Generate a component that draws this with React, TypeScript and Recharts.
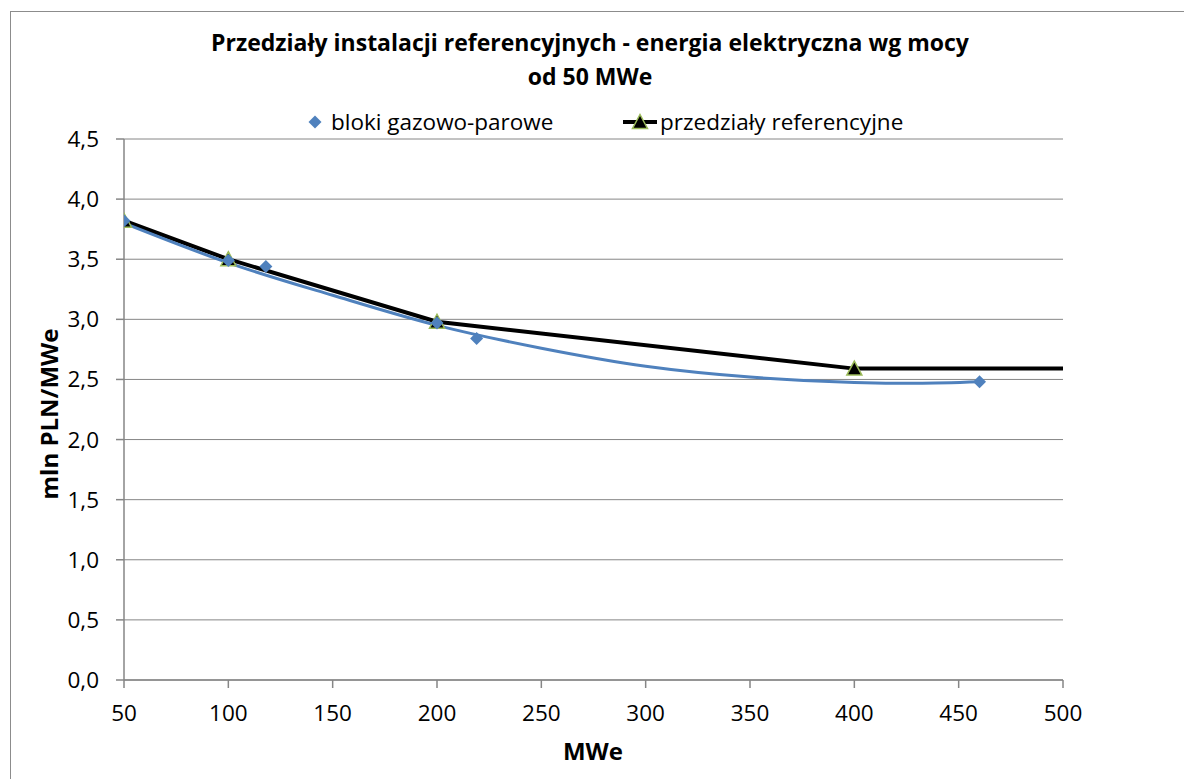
import React from "react";
import {
  ComposedChart,
  Line,
  Scatter,
  XAxis,
  YAxis,
  CartesianGrid,
} from "recharts";

// bloki gazowo-parowe (measured points)
const blokiX = [50, 100, 118, 200, 219, 460];
const blokiY = [3.82, 3.49, 3.44, 2.97, 2.84, 2.48];

const trendX = [50, 100, 150, 200, 250, 300, 350, 400, 430, 460];
const trendY = [3.8, 3.47, 3.2, 2.95, 2.76, 2.61, 2.52, 2.475, 2.468, 2.48];

// przedziały referencyjne
const refX = [50, 100, 200, 400, 500];
const refY = [3.82, 3.5, 2.98, 2.59, 2.59];

const xTicks = [50, 100, 150, 200, 250, 300, 350, 400, 450, 500];
const yTicks = [0, 0.5, 1, 1.5, 2, 2.5, 3, 3.5, 4, 4.5];

const blokiData = blokiX.map((x, i) => ({ x, y: blokiY[i] }));
const trendData = trendX.map((x, i) => ({ x, y: trendY[i] }));
const refData = refX.map((x, i) => ({ x, y: refY[i] }));

const FONT = "'Open Sans', 'DejaVu Sans', sans-serif";
const BLUE = "#4F81BD";
const GRID = "#868686";

function Diamond(props: any) {
  const { cx, cy } = props;
  if (cx == null || cy == null) return null;
  const r = 6.5;
  return (
    <polygon
      points={`${cx},${cy - r} ${cx + r},${cy} ${cx},${cy + r} ${cx - r},${cy}`}
      fill={BLUE}
    />
  );
}

function Triangle({ cx, cy, w = 15, h = 13 }: any) {
  return (
    <polygon
      points={`${cx},${cy - h / 2 - 1} ${cx + w / 2},${cy + h / 2} ${cx - w / 2},${cy + h / 2}`}
      fill="#000"
      stroke="#9BBB59"
      strokeWidth={1.5}
    />
  );
}

// no marker on the line's end point at 500
function RefDot(props: any) {
  const { cx, cy, index } = props;
  if (index === refX.length - 1 || cx == null) return <g key={index} />;
  return <Triangle key={index} cx={cx} cy={cy} />;
}

export default function App() {
  return (
    <div
      style={{
        position: "absolute",
        left: 0,
        top: 0,
        width: 1184,
        height: 779,
        overflow: "hidden",
        background: "#fff",
        fontFamily: FONT,
      }}
    >
      {/* chart frame (only left and top visible) */}
      <div
        style={{
          position: "absolute",
          left: 10,
          top: 11,
          width: 1200,
          height: 800,
          border: "1px solid #8c8c8c",
        }}
      />

      {/* title */}
      <div
        style={{
          position: "absolute",
          left: 90,
          width: 1000,
          top: 25,
          textAlign: "center",
          fontWeight: 700,
          fontSize: 23,
          lineHeight: "34px",
          color: "#000",
        }}
      >
        Przedziały instalacji referencyjnych - energia elektryczna wg mocy
        <br />
        od 50 MWe
      </div>

      {/* legend */}
      <svg
        style={{ position: "absolute", left: 0, top: 100 }}
        width={1184}
        height={40}
      >
        <Diamond cx={315} cy={22} />
        <text x={331} y={30} fontSize={22.5} fontFamily={FONT} fill="#000">
          bloki gazowo-parowe
        </text>
        <line x1={623} y1={22} x2={657} y2={22} stroke="#000" strokeWidth={4} />
        <Triangle cx={640} cy={22} />
        <text x={660} y={30} fontSize={22.5} fontFamily={FONT} fill="#000">
          przedziały referencyjne
        </text>
      </svg>

      {/* y axis title */}
      <div
        style={{
          position: "absolute",
          left: 48,
          top: 414,
          transform: "translate(-50%, -50%) rotate(-90deg)",
          whiteSpace: "nowrap",
          fontWeight: 700,
          fontSize: 24,
          color: "#000",
        }}
      >
        mln PLN/MWe
      </div>

      {/* x axis title */}
      <div
        style={{
          position: "absolute",
          left: 593,
          top: 750,
          transform: "translate(-50%, -50%)",
          fontWeight: 700,
          fontSize: 24,
          color: "#000",
        }}
      >
        MWe
      </div>

      <div style={{ position: "absolute", left: 0, top: 0 }}>
        <ComposedChart
          width={1184}
          height={779}
          margin={{ top: 139, right: 121, bottom: 59, left: 64 }}
        >
          <CartesianGrid vertical={false} stroke={GRID} strokeWidth={1} />
          <XAxis
            type="number"
            dataKey="x"
            domain={[50, 500]}
            ticks={xTicks}
            allowDataOverflow
            height={40}
            tickSize={8}
            tickMargin={17}
            stroke={GRID}
            strokeWidth={1.5}
            tick={{ fontSize: 22.5, fontFamily: FONT, fill: "#000" }}
          />
          <YAxis
            type="number"
            dataKey="y"
            domain={[0, 4.5]}
            ticks={yTicks}
            width={60}
            tickSize={8}
            tickMargin={17}
            stroke={GRID}
            strokeWidth={1.5}
            tickFormatter={(v: number) => v.toFixed(1).replace(".", ",")}
            tick={{ fontSize: 22.5, fontFamily: FONT, fill: "#000" }}
          />
          <Line
            data={refData}
            dataKey="y"
            type="linear"
            stroke="#000"
            strokeWidth={4}
            dot={RefDot}
            activeDot={false}
            isAnimationActive={false}
          />
          <Line
            data={trendData}
            dataKey="y"
            type="monotone"
            stroke={BLUE}
            strokeWidth={3}
            dot={false}
            activeDot={false}
            isAnimationActive={false}
          />
          <Scatter
            data={blokiData}
            dataKey="y"
            shape={Diamond}
            isAnimationActive={false}
          />
        </ComposedChart>
      </div>
    </div>
  );
}
